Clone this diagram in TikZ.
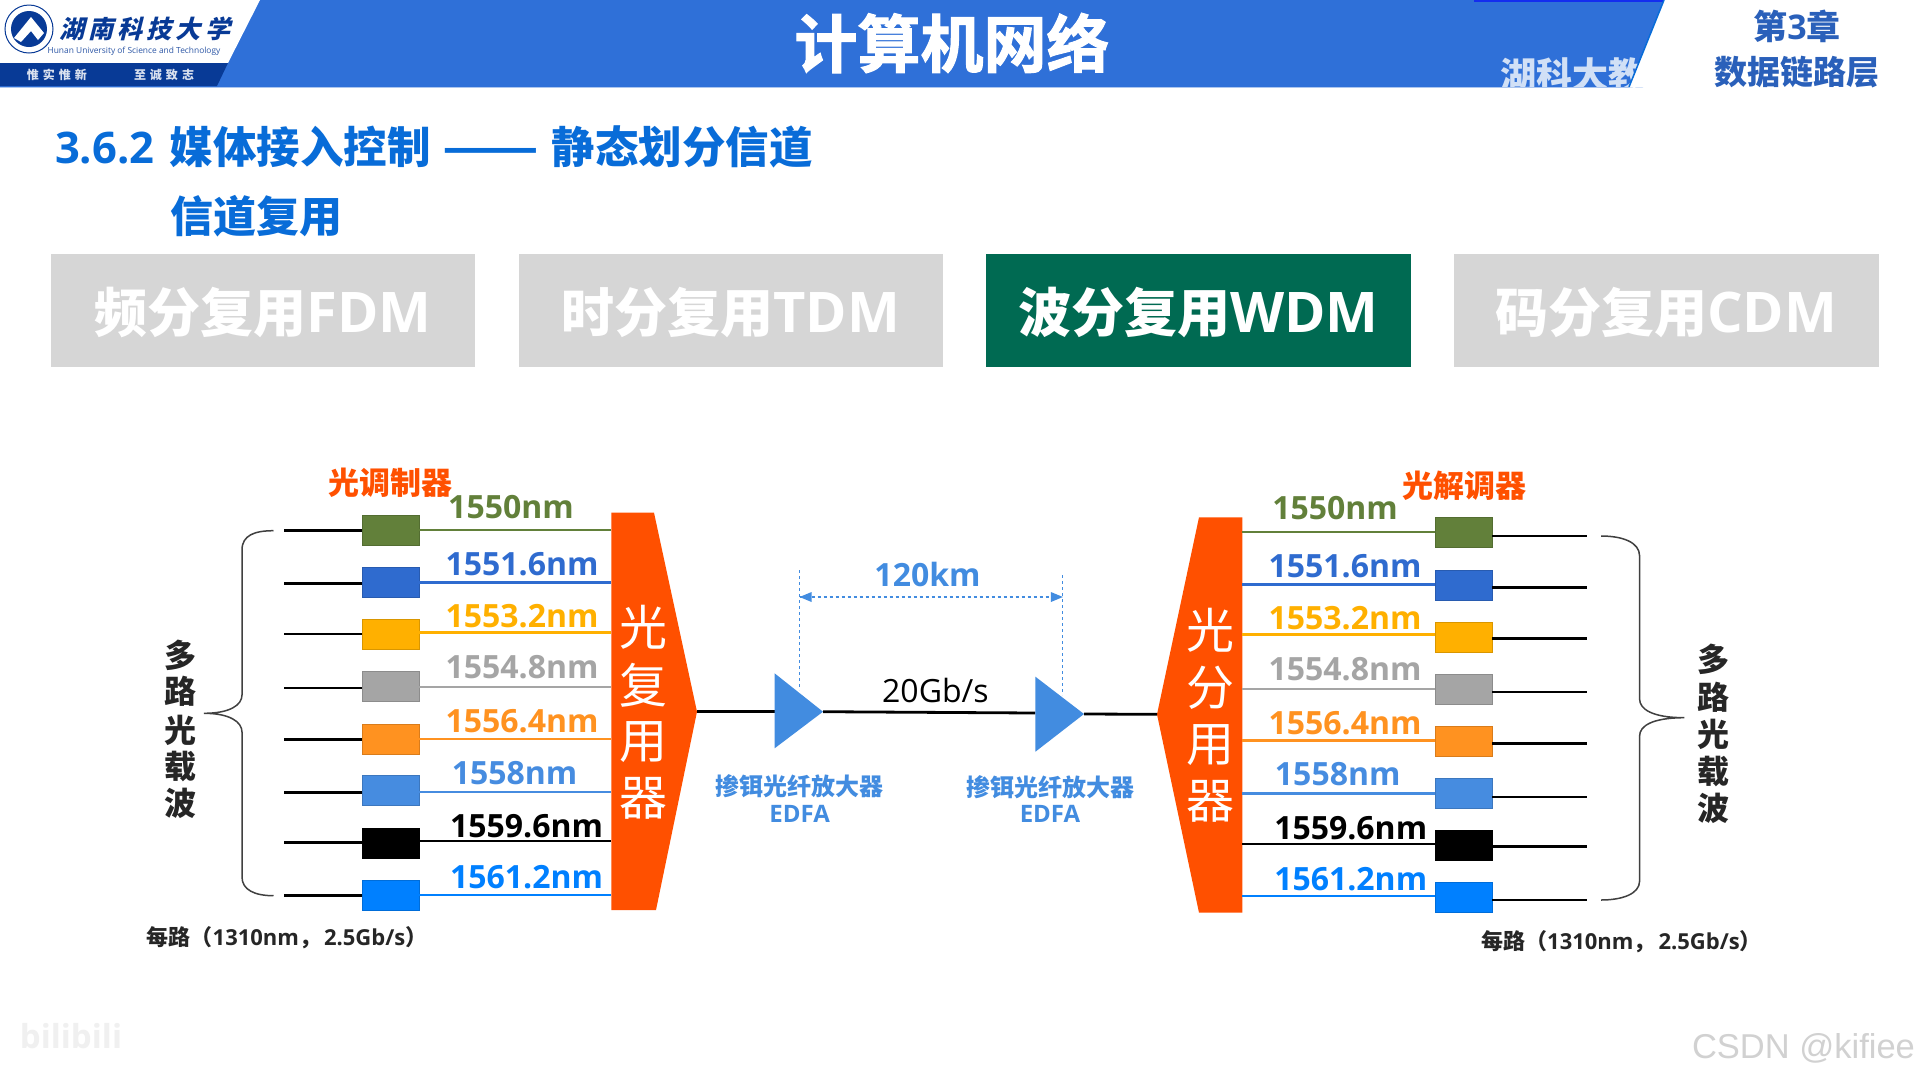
\documentclass[tikz,border=0pt]{standalone}
\usepackage{fontspec}
\setmainfont{Noto Sans CJK SC}
\newfontfamily\latf{Open Sans}
\newfontfamily\arialf{Liberation Sans}
\newfontfamily\heavyf[FakeBold=1.6]{Noto Sans CJK SC Bold}
\newcommand{\fsz}[1]{\fontsize{#1}{#1}\selectfont}
\definecolor{hdr}{RGB}{47,112,216}
\definecolor{navy}{RGB}{8,58,150}
\definecolor{secblue}{RGB}{8,108,216}
\definecolor{tabgray}{RGB}{214,214,214}
\definecolor{tabgreen}{RGB}{0,106,82}
\definecolor{muxor}{RGB}{255,80,0}
\definecolor{edfa}{RGB}{66,140,224}
\definecolor{chA}{RGB}{98,128,58}
\definecolor{chB}{RGB}{47,107,207}
\definecolor{chC}{RGB}{255,176,0}
\definecolor{chD}{RGB}{165,165,165}
\definecolor{chE}{RGB}{255,146,32}
\definecolor{chF}{RGB}{70,140,224}
\definecolor{chG}{RGB}{0,0,0}
\definecolor{chH}{RGB}{0,128,255}
\tikzset{
  every node/.style={inner sep=0pt,outer sep=0pt},
  modbox/.style={rectangle,minimum width=57pt,minimum height=30pt,line width=0.8pt},
  carrier/.style={line width=2.8pt,black},
  fibre/.style={line width=2.4pt},
  wave/.style={font=\latf\bfseries\fsz{32}},
  tabbox/.style={rectangle,minimum width=424.5pt,minimum height=112.7pt,anchor=north west},
  tabtext/.style={font=\bfseries\fsz{53},text=white},
  vert/.style={font=\fsz{48},text=white,align=center},
  carriertext/.style={font=\bfseries\fsz{32},black!85},
  edfatext/.style={font=\bfseries\fsz{24},text=edfa,align=center},
  devtitle/.style={font=\bfseries\fsz{31},text=muxor},
  rate/.style={font=\bfseries\fsz{22},black!85},
  bracepath/.style={line width=1.5pt,black!75},
  measure/.style={line width=1pt,edfa,dashed},
}
\begin{document}
\begin{tikzpicture}[x=1pt,y=-1pt]
\useasboundingbox (0,0) rectangle (1920,1080);
\fill[white] (0,0) rectangle (1920,1080);
% header
\fill[hdr] (0,0) rectangle (1920,87);
\fill[black!0!blue!60!hdr] (1474,0) rectangle (1664,2);
\node[anchor=west,font=\bfseries\fsz{36},text=white!78!hdr] (wm) at (1500,75) {湖科大教};
\fill[white] (1480,87.5) rectangle (1720,112);
\fill[white] (1664,0) -- (1920,0) -- (1920,87) -- (1629,87) -- cycle;
\draw[line width=1.5pt,secblue] (1664,0) -- (1629,87);
\fill[white] (0,0) -- (260,0) -- (228,63) -- (0,63) -- cycle;
\fill[navy] (0,63) -- (228,63) -- (217,86) -- (0,86) -- cycle;
\draw[line width=1pt,white!60!hdr] (0,87) -- (1629,87);
% logo
\draw[navy,line width=1pt] (29,29) circle (24);
\fill[navy] (29,29) circle (18);
\fill[white] (14,38) -- (31,17) -- (44,33) -- (38,40) -- (31,31) -- (21,42) -- cycle;
\node[font=\bfseries\fsz{25},text=navy,xslant=0.25] (uni) at (147,29) {湖\,南\,科\,技\,大\,学};
\node[font=\latf\fsz{8.4},text=navy!85] (unien) at (134,51) {Hunan University of Science and Technology};
\node[font=\bfseries\fsz{12},text=white!85!navy] (mottoa) at (57,75) {惟\,\,实\,\,惟\,\,新};
\node[font=\bfseries\fsz{12},text=white!85!navy] (mottob) at (164,75) {至\,\,诚\,\,致\,\,志};
\node[font=\heavyf\fsz{63},text=white] (title) at (952,43) {计算机网络};
\node[font=\bfseries\fsz{34},text=chB!90!black] (chap) at (1797,26) {第{\latf 3}章};
\node[font=\bfseries\fsz{33},text=chB!90!black] (chapn) at (1797,72) {数据链路层};
% section heading
\node[anchor=west,font=\bfseries\fsz{43.5},text=secblue] (sec) at (55,147) {\makebox[115pt][l]{\latf 3.6.2}媒体接入控制\hspace{12pt}\scalebox{1.08}[1]{\scalebox{1.2}[1]{——}}\hspace{12pt}静态划分信道};
\node[anchor=west,font=\bfseries\fsz{43},text=secblue] (sub) at (170,216) {信道复用};
% tabs
\node[tabbox,fill=tabgray] (t1) at (50.5,254) {};
\node[tabbox,fill=tabgray] (t2) at (518.5,254) {};
\node[tabbox,fill=tabgreen] (t3) at (986,254) {};
\node[tabbox,fill=tabgray] (t4) at (1454,254) {};
\node[tabtext,yshift=-2pt] at (t1) {频分复用{\latf\fsz{56}FDM}};
\node[tabtext,yshift=-2pt] at (t2) {时分复用{\latf\fsz{56}TDM}};
\node[tabtext,yshift=-2pt] at (t3) {波分复用{\latf\fsz{56}WDM}};
\node[tabtext,yshift=-2pt] at (t4) {码分复用{\latf\fsz{56}CDM}};
% mux
\fill[muxor] (611.4,512.7) -- (654,512.7) -- (697,711.7) -- (656,910) -- (611.4,910) -- cycle;
\coordinate (muxtip) at (697,711.7);
\node[vert] (mA) at (643.5,627.7) {光};
\node[vert] (mB) at (643.5,685) {复};
\node[vert] (mC) at (643.5,741.7) {用};
\node[vert] (mD) at (643.5,798) {器};
% demux
\fill[muxor] (1242.4,517.3) -- (1199,517.3) -- (1157,714.3) -- (1199,912.7) -- (1242.4,912.7) -- cycle;
\coordinate (demuxtip) at (1157,714.3);
\node[vert] (dA) at (1210,630) {光};
\node[vert] (dB) at (1210,687.3) {分};
\node[vert] (dC) at (1210,745) {用};
\node[vert] (dD) at (1210,801.7) {器};
% left channels: idx/box centre y/black y/colour y/label x/label y/colour/text
\foreach \i/\by/\ky/\cy/\lx/\ly/\col/\txt in {
 1/530.2/530.7/530/511/506.7/chA/1550nm,
 2/582.5/583.3/582.3/522/564/chB/1551.6nm,
 3/634.7/634/632.3/522/616/chC/1553.2nm,
 4/686.3/688/687/522/667.3/chD/1554.8nm,
 5/739/739.7/738.7/522/720.7/chE/1556.4nm,
 6/790.7/792.7/791.7/514.6/772.7/chF/1558nm,
 7/843.2/842.7/840.7/526.5/825.7/chG/1559.6nm,
 8/895/895.7/894.7/526.5/877.3/chH/1561.2nm}{
  \node[modbox,fill=\col,draw=\col!85!black] (lb\i) at (390.5,\by) {};
  \coordinate (lk\i) at (284,\ky);
  \coordinate (lm\i) at (611.4,\cy);
  \draw[carrier] (lk\i) -- (lb\i.west |- lk\i);
  \draw[fibre,\col] (lb\i.east |- lm\i) -- (lm\i);
  \node[wave,text=\col] (ll\i) at (\lx,\ly) {\txt};
}
% right channels
\foreach \i/\by/\ky/\cy/\lx/\ly/\col/\txt in {
 1/532.7/536/531.7/1335/508.3/chA/1550nm,
 2/585.2/587.3/584.3/1345/565.7/chB/1551.6nm,
 3/637/638.3/634.3/1345/618.3/chC/1553.2nm,
 4/689.5/692/688.7/1345/669.3/chD/1554.8nm,
 5/741.2/743.7/740.3/1345/722.7/chE/1556.4nm,
 6/793/797/793.3/1337.7/774.3/chF/1558nm,
 7/845.5/846.7/843.7/1350.7/827.7/chG/1559.6nm,
 8/897.7/900/896/1350.7/879.3/chH/1561.2nm}{
  \node[modbox,fill=\col,draw=\col!85!black] (rb\i) at (1463.7,\by) {};
  \coordinate (rk\i) at (1586.8,\ky);
  \coordinate (rm\i) at (1242.4,\cy);
  \draw[carrier] (rb\i.east |- rk\i) -- (rk\i);
  \draw[fibre,\col] (rm\i) -- (rb\i.west |- rm\i);
  \node[wave,text=\col] (rl\i) at (\lx,\ly) {\txt};
}
\node[devtitle] (modt) at (390.6,482.7) {光调制器};
\node[devtitle] (demt) at (1464,485.7) {光解调器};
% braces
\draw[bracepath] (273.5,530.7) .. controls (255,530.7) and (242,535) .. (242,550) -- (242,695) .. controls (242,705) and (230,713.3) .. (204,713.3) .. controls (230,713.3) and (242,722) .. (242,732) -- (242,877) .. controls (242,890) and (255,895.7) .. (273.5,895.7);
\draw[bracepath] (1601,536) .. controls (1622,536) and (1639.6,542) .. (1639.6,556) -- (1639.6,699) .. controls (1639.6,709) and (1652,717.7) .. (1684.4,717.7) .. controls (1652,717.7) and (1639.6,726) .. (1639.6,736) -- (1639.6,881) .. controls (1639.6,894) and (1622,900) .. (1601,900);
\node[carriertext] (la) at (180.5,655) {多};
\node[carriertext] (lc) at (180.5,691.7) {路};
\node[carriertext] (ld) at (180.5,730) {光};
\node[carriertext] (le) at (180.5,766.7) {载};
\node[carriertext] (lf) at (180.5,803.3) {波};
\node[carriertext] (ra) at (1713.9,659.3) {多};
\node[carriertext] (rc) at (1713.9,697.3) {路};
\node[carriertext] (rd) at (1713.9,734.3) {光};
\node[carriertext] (re) at (1713.9,771.7) {载};
\node[carriertext] (rf) at (1713.9,808.3) {波};
\node[rate] (ra1) at (287,937.7) {每路（{\latf 1310nm}，\hspace{3pt}{\latf 2.5Gb/s}）};
\node[rate] (ra2) at (1621.5,942) {每路（{\latf 1310nm}，\hspace{3pt}{\latf 2.5Gb/s}）};
% line & amplifiers
\coordinate (a1w) at (774.6,711.7);
\coordinate (a1e) at (823,711.7);
\coordinate (a2w) at (1035.4,713);
\coordinate (a2e) at (1084,714);
\draw[carrier] (muxtip) -- (a1w);
\draw[carrier] (a1e) -- (a2w);
\draw[carrier] (a2e) -- (demuxtip);
\fill[edfa] (774.6,673.3) -- (a1e) -- (774.6,748.3) -- cycle;
\fill[edfa] (1035.4,676.7) -- (a2e) -- (1035.4,751.7) -- cycle;
\node[font=\latf\fsz{32}] (rate20) at (935.4,690.7) {20Gb/s};
\coordinate (d1a) at (799.6,570);
\coordinate (d1b) at (799.6,690);
\coordinate (d2a) at (1062.9,575);
\coordinate (d2b) at (1062.9,695);
\coordinate (m1) at (799.6,597);
\coordinate (m2) at (1062.9,597);
\draw[measure] (d1a) -- (d1b);
\draw[measure] (d2a) -- (d2b);
\draw[measure,line width=1.3pt] (m1) -- (m2);
\fill[edfa] (m1) -- ++(12,-5) -- ++(0,10) -- cycle;
\fill[edfa] (m2) -- ++(-12,-5) -- ++(0,10) -- cycle;
\node[font=\latf\bfseries\fsz{32},text=edfa] (km) at (927.5,574) {120km};
\node[edfatext] (e1) at (799.6,786) {掺铒光纤放大器};
\node[font=\latf\bfseries\fsz{24},text=edfa] (e1b) at (799.6,814) {EDFA};
\node[edfatext] (e2) at (1050,786.7) {掺铒光纤放大器};
\node[font=\latf\bfseries\fsz{24},text=edfa] (e2b) at (1050,814.3) {EDFA};
% watermarks
\node[font=\latf\bfseries\fsz{33},text=black!6] (bili) at (71,1036) {bilibili};
\node[font=\arialf\fsz{34.5},text=black!18] (csdn) at (1803.5,1048) {CSDN @kifiee};
\end{tikzpicture}
\end{document}
